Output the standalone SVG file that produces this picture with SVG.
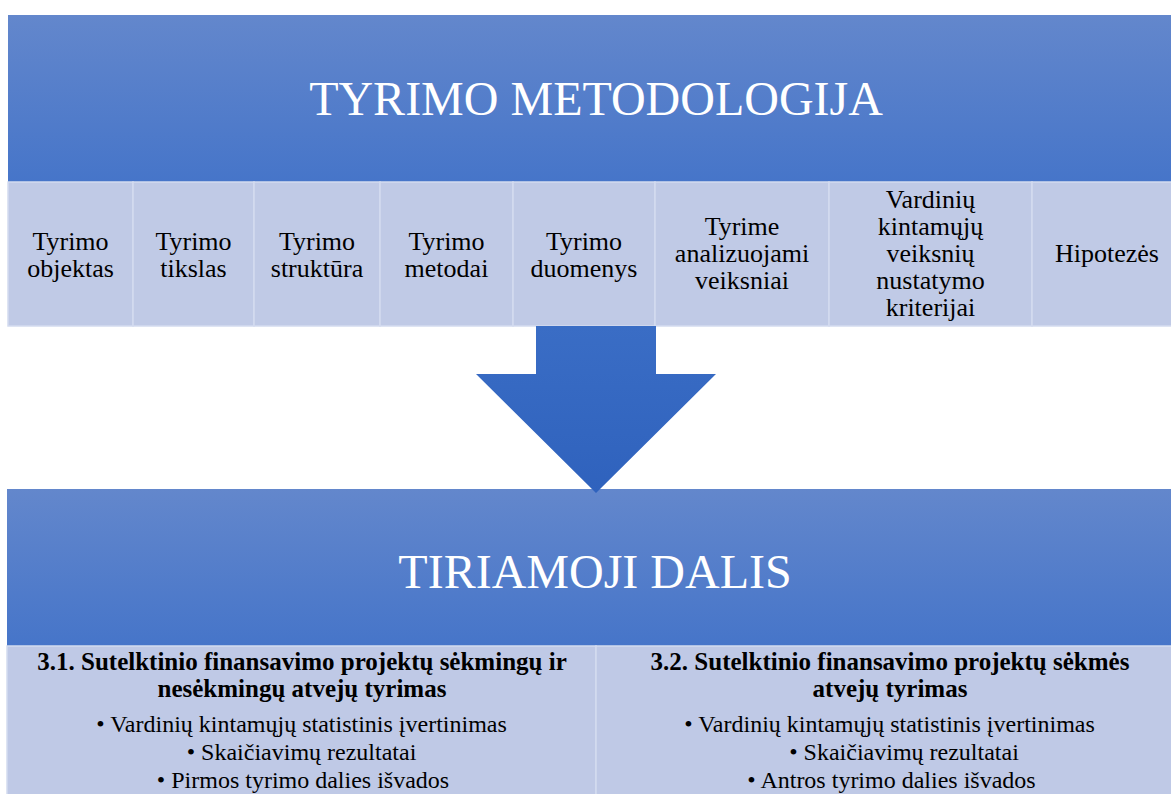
<svg xmlns="http://www.w3.org/2000/svg" width="1171" height="794" viewBox="0 0 1171 794" font-family="'Liberation Serif', 'Times New Roman', serif">
<defs>
<linearGradient id="bannerGrad" x1="0" y1="0" x2="0" y2="1">
<stop offset="0" stop-color="#6387cc"/>
<stop offset="1" stop-color="#4675c9"/>
</linearGradient>
<linearGradient id="arrowGrad" x1="0" y1="0" x2="0" y2="1">
<stop offset="0" stop-color="#3a6dc5"/>
<stop offset="1" stop-color="#2f62bd"/>
</linearGradient>
</defs>
<style>
text{font-family:'Liberation Serif','Times New Roman',serif !important;}
.banner{fill:url(#bannerGrad);}
.cell{fill:#c0cae6;stroke:#d4dbef;stroke-width:1.5;}
.box{fill:#bfc9e6;stroke:#d4dbef;stroke-width:1.5;}
.title{font-size:48px;fill:#ffffff;text-anchor:middle;}
.ct{font-size:26px;fill:#000000;text-anchor:middle;}
.hd{font-size:25px;font-weight:bold;fill:#000000;text-anchor:middle;}
.bl{font-size:24px;fill:#000000;text-anchor:middle;}
</style>
<rect width="1171" height="794" fill="#ffffff"/>

<g id="metodologija">
<rect class="banner" x="8" y="15" width="1176" height="167"/>
<text class="title" x="596" y="115" font-family="Liberation Serif">TYRIMO METODOLOGIJA</text>
</g>

<g id="cell-objektas">
<rect class="cell" x="8" y="182" width="125" height="144"/>
<text class="ct" x="70.5" y="249.5" font-family="Liberation Serif">Tyrimo</text>
<text class="ct" x="70.5" y="276.5" font-family="Liberation Serif">objektas</text>
</g>
<g id="cell-tikslas">
<rect class="cell" x="133" y="182" width="121" height="144"/>
<text class="ct" x="193.5" y="249.5" font-family="Liberation Serif">Tyrimo</text>
<text class="ct" x="193.5" y="276.5" font-family="Liberation Serif">tikslas</text>
</g>
<g id="cell-struktura">
<rect class="cell" x="254" y="182" width="126" height="144"/>
<text class="ct" x="317" y="249.5" font-family="Liberation Serif">Tyrimo</text>
<text class="ct" x="317" y="276.5" font-family="Liberation Serif">struktūra</text>
</g>
<g id="cell-metodai">
<rect class="cell" x="380" y="182" width="133" height="144"/>
<text class="ct" x="446.5" y="249.5" font-family="Liberation Serif">Tyrimo</text>
<text class="ct" x="446.5" y="276.5" font-family="Liberation Serif">metodai</text>
</g>
<g id="cell-duomenys">
<rect class="cell" x="513" y="182" width="142" height="144"/>
<text class="ct" x="584" y="249.5" font-family="Liberation Serif">Tyrimo</text>
<text class="ct" x="584" y="276.5" font-family="Liberation Serif">duomenys</text>
</g>
<g id="cell-veiksniai">
<rect class="cell" x="655" y="182" width="174" height="144"/>
<text class="ct" x="742" y="235" font-family="Liberation Serif">Tyrime</text>
<text class="ct" x="742" y="262" font-family="Liberation Serif">analizuojami</text>
<text class="ct" x="742" y="289" font-family="Liberation Serif">veiksniai</text>
</g>
<g id="cell-kriterijai">
<rect class="cell" x="829" y="182" width="203" height="144"/>
<text class="ct" x="930.5" y="208" font-family="Liberation Serif">Vardinių</text>
<text class="ct" x="930.5" y="235" font-family="Liberation Serif">kintamųjų</text>
<text class="ct" x="930.5" y="262" font-family="Liberation Serif">veiksnių</text>
<text class="ct" x="930.5" y="289" font-family="Liberation Serif">nustatymo</text>
<text class="ct" x="930.5" y="316" font-family="Liberation Serif">kriterijai</text>
</g>
<g id="cell-hipotezes">
<rect class="cell" x="1032" y="182" width="152" height="144"/>
<text class="ct" x="1107" y="262" font-family="Liberation Serif">Hipotezės</text>
</g>

<g id="tiriamoji">
<rect class="banner" x="7" y="489" width="1177" height="157"/>
<text class="title" x="595" y="588" font-family="Liberation Serif">TIRIAMOJI DALIS</text>
</g>

<g id="part-3-1">
<rect class="box" x="7" y="646" width="589" height="160"/>
<text class="hd" x="302" y="670">3.1. Sutelktinio finansavimo projektų sėkmingų ir</text>
<text class="hd" x="302" y="697">nesėkmingų atvejų tyrimas</text>
<text class="bl" x="301.5" y="732">• Vardinių kintamųjų statistinis įvertinimas</text>
<text class="bl" x="301.5" y="760">• Skaičiavimų rezultatai</text>
<text class="bl" x="303" y="788">• Pirmos tyrimo dalies išvados</text>
</g>

<g id="part-3-2">
<rect class="box" x="596" y="646" width="588" height="160"/>
<text class="hd" x="890" y="670">3.2. Sutelktinio finansavimo projektų sėkmės</text>
<text class="hd" x="890" y="697">atvejų tyrimas</text>
<text class="bl" x="889.5" y="732">• Vardinių kintamųjų statistinis įvertinimas</text>
<text class="bl" x="904" y="760">• Skaičiavimų rezultatai</text>
<text class="bl" x="891.5" y="788">• Antros tyrimo dalies išvados</text>
</g>

<g id="connectors">
<polygon points="536,326 656,326 656,374 716,374 596,493 476,374 536,374" fill="url(#arrowGrad)"/>
</g>
</svg>
